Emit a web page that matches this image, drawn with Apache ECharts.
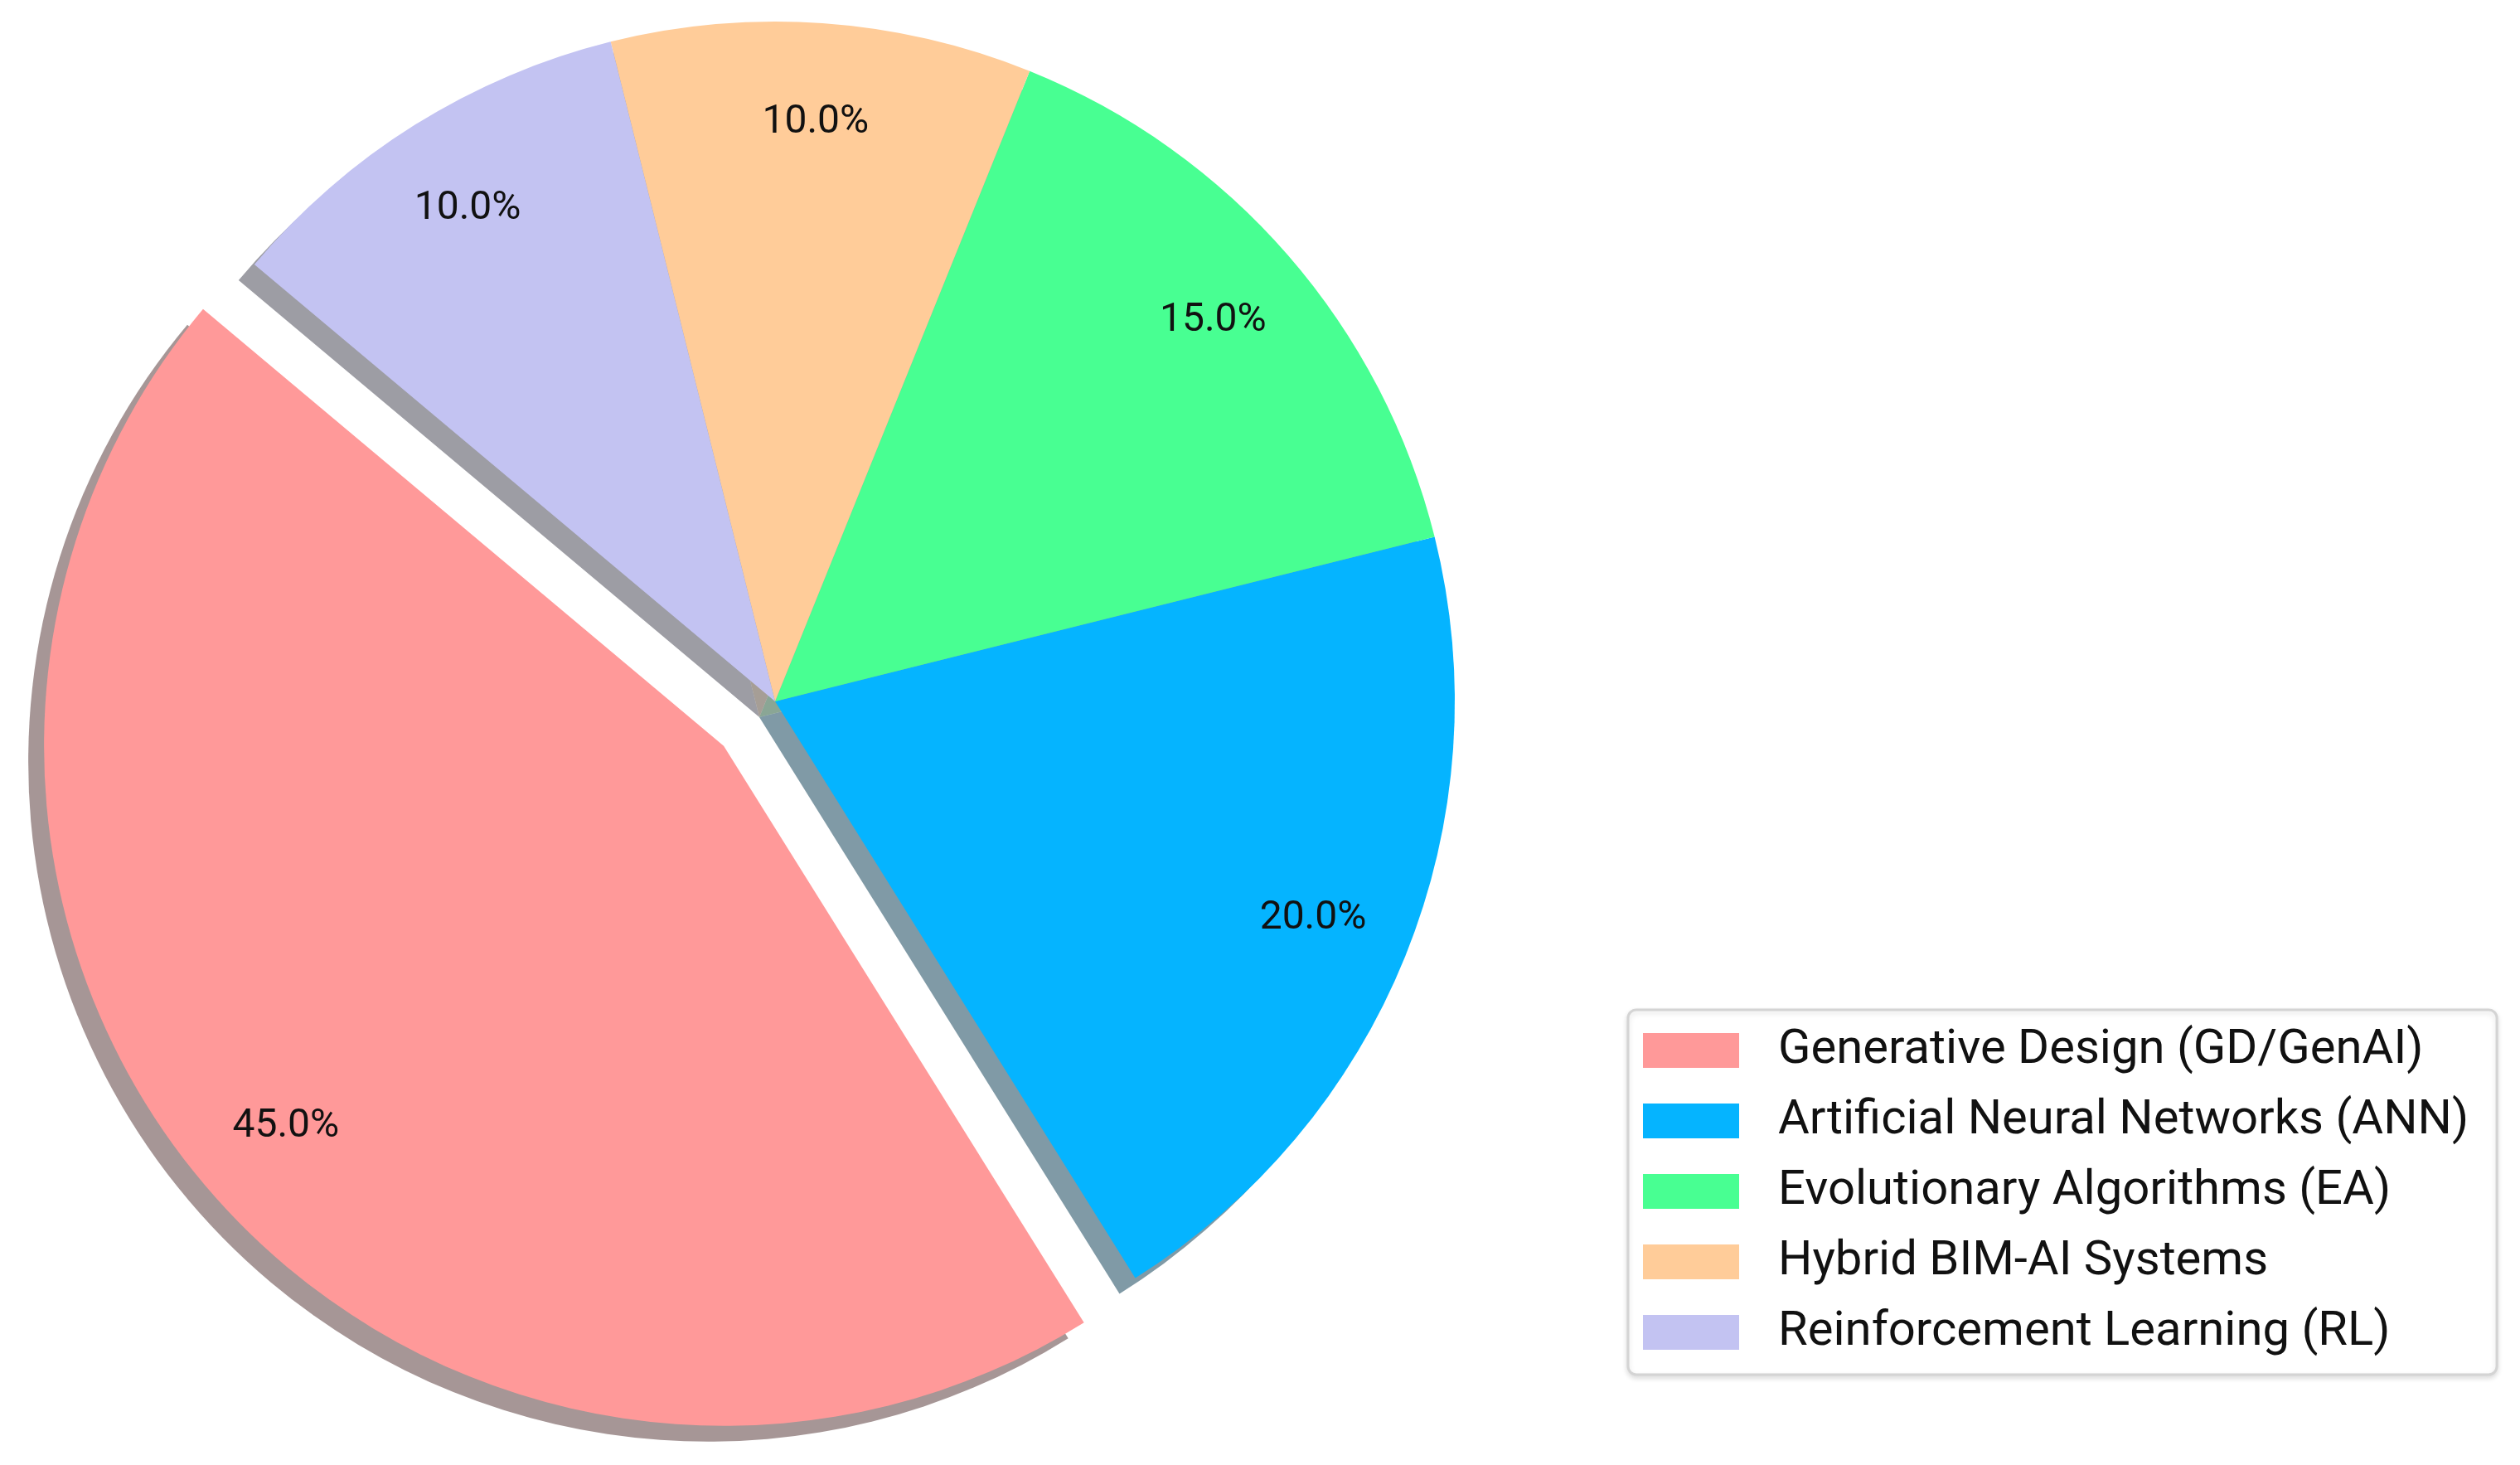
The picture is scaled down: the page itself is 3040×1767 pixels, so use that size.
<!DOCTYPE html>
<html>
<head>
<meta charset="utf-8">
<script src="https://cdn.jsdelivr.net/npm/echarts@6/dist/echarts.min.js"></script>
<style>html,body{margin:0;padding:0;background:#fff;}#c{width:3040px;height:1767px;}</style>
</head>
<body>
<div id="c"></div>
<script>
const categories = ['Generative Design (GD/GenAI)', 'Artificial Neural Networks (ANN)', 'Evolutionary Algorithms (EA)', 'Hybrid BIM-AI Systems', 'Reinforcement Learning (RL)'];
const values = [45, 20, 15, 10, 10];
const explodedIndex = 0;

const palette = ['#ff9999', '#05b4ff', '#48ff92', '#ffcc99', '#c3c3f2'];
function shadowOf(hex) {
  const r = parseInt(hex.slice(1,3),16), g = parseInt(hex.slice(3,5),16), b = parseInt(hex.slice(5,7),16);
  return 'rgba(' + Math.round(r*0.3) + ',' + Math.round(g*0.3) + ',' + Math.round(b*0.3) + ',0.5)';
}

const R = 820, CX = 935, CY = 846, EXPLODE = 82, SH = 19;
const FONT = 'Roboto';

function mkData(kind) {
  return categories.map((name, i) => ({
    name: name,
    value: values[i],
    selected: i === explodedIndex,
    itemStyle: kind === 'main' ? { color: palette[i] } :
               kind === 'shadow' ? { color: shadowOf(palette[i]) } :
               { color: 'rgba(0,0,0,0)' }
  }));
}

const common = {
  type: 'pie',
  startAngle: 140,
  clockwise: false,
  selectedMode: 'single',
  selectedOffset: EXPLODE,
  avoidLabelOverlap: false,
  animation: false,
  silent: true,
  emphasis: { disabled: true },
  labelLine: { show: false }
};

const chart = echarts.init(document.getElementById('c'), null, { renderer: 'canvas' });
chart.setOption({
  backgroundColor: '#ffffff',
  animation: false,
  legend: {
    orient: 'vertical',
    left: 1964,
    top: 1218,
    data: categories,
    icon: 'rect',
    itemWidth: 116,
    itemHeight: 42,
    itemGap: 27,
    padding: [20, 34, 22, 18],
    backgroundColor: '#ffffff',
    borderColor: '#d4d4d4',
    borderWidth: 3,
    borderRadius: 10,
    shadowColor: 'rgba(0,0,0,0.12)',
    shadowBlur: 6,
    shadowOffsetY: 3,
    selectedMode: false,
    textStyle: {
      fontFamily: FONT,
      fontSize: 58,
      color: '#111',
      padding: [0, 0, 0, 42]
    }
  },
  series: [
    Object.assign({}, common, {
      name: 'main',
      z: 3,
      center: [CX, CY],
      radius: [0, R],
      data: mkData('main'),
      itemStyle: { borderWidth: 0 },
      select: { itemStyle: { borderWidth: 0 } },
      label: { show: false }
    }),
    Object.assign({}, common, {
      name: 'shadow',
      z: 1,
      center: [CX - SH, CY + SH],
      radius: [0, R],
      data: mkData('shadow'),
      itemStyle: { borderWidth: 0 },
      select: { itemStyle: { borderWidth: 0 } },
      label: { show: false }
    }),
    Object.assign({}, common, {
      name: 'labels',
      z: 5,
      center: [CX, CY],
      radius: [R * 0.7, R],
      data: mkData('label'),
      itemStyle: { borderWidth: 0 },
      select: { itemStyle: { borderWidth: 0 }, label: { show: true } },
      label: {
        show: true,
        position: 'inside',
        fontFamily: FONT,
        fontSize: 48,
        color: '#111',
        formatter: p => p.value.toFixed(1) + '%'
      }
    })
  ]
});
</script>
</body>
</html>
